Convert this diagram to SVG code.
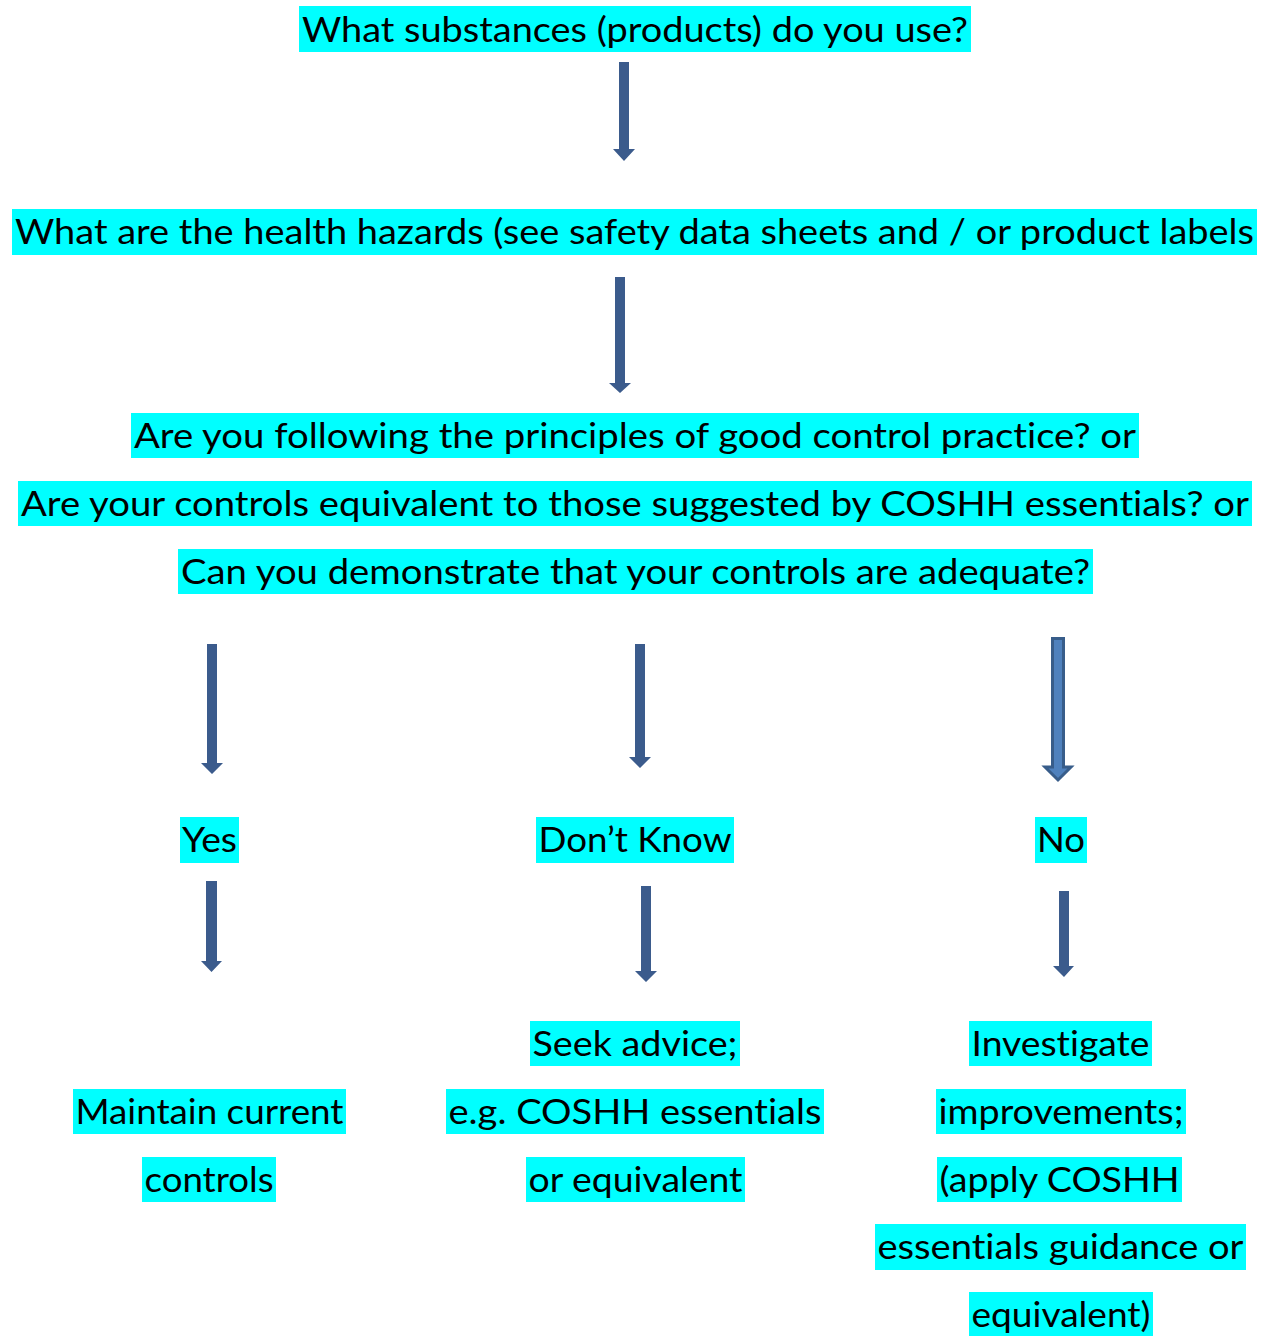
<svg xmlns="http://www.w3.org/2000/svg" width="1270" height="1336" viewBox="0 0 1270 1336">
<style>
  .hl { fill: #00ffff; }
  .t { font-family: Lato, "Noto Sans", "Liberation Sans", sans-serif; font-size: 35px; fill: #000; text-anchor: middle; font-variant-ligatures: none; }
  .arr { fill: #3b5b8c; }
  .arr2 { fill: #4f81bd; stroke: #385d8a; stroke-width: 3; }
</style>
<rect width="1270" height="1336" fill="#ffffff"/>

<g id="connectors">
  <path class="arr" d="M619,62 H629 V149 H635 L624,161 L613,149 H619 Z"/>
  <path class="arr" d="M615,277 H625 V383 H631 L620,393 L609,383 H615 Z"/>
  <path class="arr" d="M207,644 H217 V763 H223 L212,774 L201,763 H207 Z"/>
  <path class="arr" d="M635,644 H645 V757 H651 L640,768 L629,757 H635 Z"/>
  <path class="arr2" d="M1052.5,638.5 H1063.5 V767 H1071 L1058,780 L1045,767 H1052.5 Z"/>
  <path class="arr" d="M206,881 H217 V961 H222 L211.5,972 L201,961 H206 Z"/>
  <path class="arr" d="M641,886 H651 V971 H657 L646,982 L635,971 H641 Z"/>
  <path class="arr" d="M1059,891 H1069 V966 H1074 L1064,977 L1053,966 H1059 Z"/>
</g>

<g id="q-substances">
  <rect class="hl" x="299" y="6" width="672" height="46"/>
  <text class="t" x="635" y="42" textLength="666" lengthAdjust="spacingAndGlyphs">What substances (products) do you use?</text>
</g>

<g id="q-hazards">
  <rect class="hl" x="12" y="209" width="1245" height="46"/>
  <text class="t" x="634.5" y="244" textLength="1239" lengthAdjust="spacingAndGlyphs">What are the health hazards (see safety data sheets and / or product labels</text>
</g>

<g id="q-controls">
  <rect class="hl" x="131" y="413" width="1008" height="45"/>
  <text class="t" x="635" y="448" textLength="1002" lengthAdjust="spacingAndGlyphs">Are you following the principles of good control practice? or</text>
  <rect class="hl" x="18" y="481" width="1234" height="45"/>
  <text class="t" x="635" y="516" textLength="1228" lengthAdjust="spacingAndGlyphs">Are your controls equivalent to those suggested by COSHH essentials? or</text>
  <rect class="hl" x="178" y="549" width="915" height="45"/>
  <text class="t" x="635.5" y="584" textLength="909" lengthAdjust="spacingAndGlyphs">Can you demonstrate that your controls are adequate?</text>
</g>

<g id="a-yes">
  <rect class="hl" x="180" y="817" width="59" height="46"/>
  <text class="t" x="209.5" y="852" textLength="55" lengthAdjust="spacingAndGlyphs">Yes</text>
</g>

<g id="a-dontknow">
  <rect class="hl" x="536" y="817" width="198" height="46"/>
  <text class="t" x="635" y="852" textLength="193" lengthAdjust="spacingAndGlyphs">Don’t Know</text>
</g>

<g id="a-no">
  <rect class="hl" x="1035" y="817" width="52" height="46"/>
  <text class="t" x="1061" y="852" textLength="48" lengthAdjust="spacingAndGlyphs">No</text>
</g>

<g id="r-maintain">
  <rect class="hl" x="73" y="1089" width="273" height="45"/>
  <text class="t" x="209.5" y="1124" textLength="268" lengthAdjust="spacingAndGlyphs">Maintain current</text>
  <rect class="hl" x="142" y="1157" width="134" height="45"/>
  <text class="t" x="209" y="1192" textLength="129" lengthAdjust="spacingAndGlyphs">controls</text>
</g>

<g id="r-advice">
  <rect class="hl" x="530" y="1021" width="210" height="45"/>
  <text class="t" x="635" y="1056" textLength="205" lengthAdjust="spacingAndGlyphs">Seek advice;</text>
  <rect class="hl" x="446" y="1089" width="378" height="45"/>
  <text class="t" x="635" y="1124" textLength="373" lengthAdjust="spacingAndGlyphs">e.g. COSHH essentials</text>
  <rect class="hl" x="526" y="1157" width="219" height="45"/>
  <text class="t" x="635.5" y="1192" textLength="214" lengthAdjust="spacingAndGlyphs">or equivalent</text>
</g>

<g id="r-investigate">
  <rect class="hl" x="969" y="1021" width="183" height="45"/>
  <text class="t" x="1060.5" y="1056" textLength="178" lengthAdjust="spacingAndGlyphs">Investigate</text>
  <rect class="hl" x="936" y="1089" width="250" height="45"/>
  <text class="t" x="1061" y="1124" textLength="245" lengthAdjust="spacingAndGlyphs">improvements;</text>
  <rect class="hl" x="937" y="1157" width="245" height="45"/>
  <text class="t" x="1059.5" y="1192" textLength="240" lengthAdjust="spacingAndGlyphs">(apply COSHH</text>
  <rect class="hl" x="875" y="1224" width="371" height="46"/>
  <text class="t" x="1060.5" y="1259" textLength="366" lengthAdjust="spacingAndGlyphs">essentials guidance or</text>
  <rect class="hl" x="969" y="1292" width="184" height="44"/>
  <text class="t" x="1061" y="1327" textLength="179" lengthAdjust="spacingAndGlyphs">equivalent)</text>
</g>
</svg>
